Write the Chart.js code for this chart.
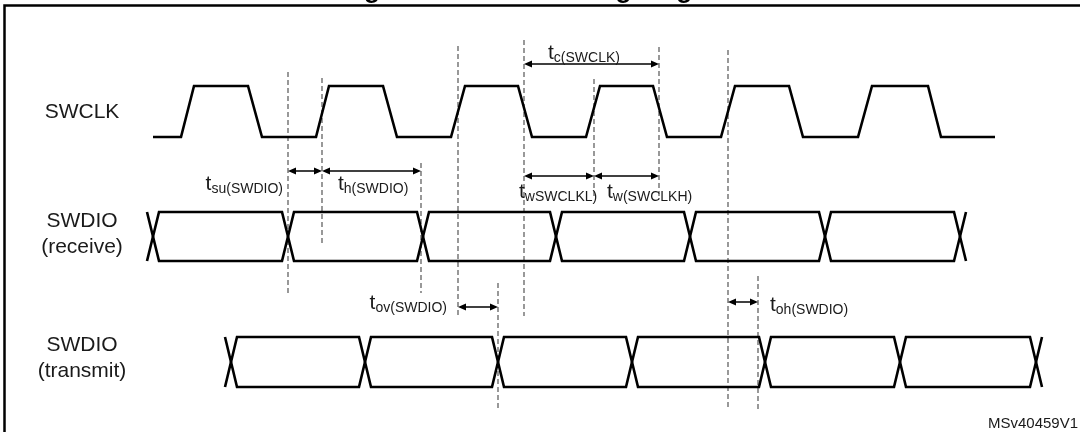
<!DOCTYPE html>
<html>
<head>
<meta charset="utf-8">
<script src="https://cdn.jsdelivr.net/npm/chart.js@4/dist/chart.umd.min.js"></script>
<style>
  body { margin: 0; background: #fff; }
  #wrap { width: 1080px; height: 432px; }
</style>
</head>
<body>
<div id="wrap"><canvas id="timing" width="1080" height="432"></canvas></div>
<script>
// SWCLK waveform: transition times and logic level at each
const clkTimes = [153, 181, 194, 248, 262, 316, 329, 383, 397, 451, 465, 518, 532,
                  586, 600, 653, 667, 721, 735, 789, 803, 858, 872, 928, 941, 995];
const clkLevels = [0, 0, 1, 1, 0, 0, 1, 1, 0, 0, 1, 1, 0,
                   0, 1, 1, 0, 0, 1, 1, 0, 0, 1, 1, 0, 0];

// SWDIO data change (crossing) times
const rxCross = [153, 288, 423, 556, 690, 825, 960];
const txCross = [231, 365, 498, 632, 765, 900, 1036];

// timing reference markers (dashed)
const markerTimes = [288, 322, 421, 458, 498, 524, 594, 659, 728, 758];

// measured intervals
const measNames = ['su(SWDIO)', 'h(SWDIO)', 'c(SWCLK)', 'wSWCLKL)', 'w(SWCLKH)', 'ov(SWDIO)', 'oh(SWDIO)'];
const measStart = [288, 322, 524, 524, 594, 458, 728];
const measEnd   = [322, 421, 659, 594, 659, 498, 758];

const rowNames = ['SWCLK', 'SWDIO\n(receive)', 'SWDIO\n(transmit)'];

// ---- layout (vertical positions, in canvas rows) ----
const rows = [
  { hi: 86,  lo: 137, labelY: 112 },
  { hi: 212, lo: 261, labelY: 234 },
  { hi: 337, lo: 387, labelY: 358 }
];
const markerSpan = [[72, 293], [78, 246], [163, 293], [46, 315], [283, 409],
                    [40, 316], [79, 199], [47, 199], [50, 410], [276, 410]];
const measLayout = [
  { y: 171, lx: 283, ly: 190, align: 'right' },
  { y: 171, lx: 338, ly: 190, align: 'left' },
  { y: 64,  lx: 548, ly: 59,  align: 'left' },
  { y: 176, lx: 519, ly: 198, align: 'left' },
  { y: 176, lx: 607, ly: 198, align: 'left' },
  { y: 307, lx: 447, ly: 309, align: 'right' },
  { y: 302, lx: 770, ly: 311, align: 'left' }
];
const crossHalf = 6;
const FONT = "'Liberation Sans', Arial, sans-serif";

function clockPoints() {
  const r = rows[0];
  return clkTimes.map((t, i) => ({ x: t, y: clkLevels[i] ? r.hi : r.lo }));
}

function eyePaths(cross, row) {
  const a = [], b = [];
  let la = row.lo, lb = row.hi;
  cross.forEach(c => {
    a.push({ x: c - crossHalf, y: la });
    b.push({ x: c - crossHalf, y: lb });
    la = la === row.lo ? row.hi : row.lo;
    lb = lb === row.lo ? row.hi : row.lo;
    a.push({ x: c + crossHalf, y: la });
    b.push({ x: c + crossHalf, y: lb });
  });
  return [a, b];
}

const solid = { borderColor: '#000', borderWidth: 2.6, pointRadius: 0, showLine: true,
                fill: false, tension: 0, borderJoinStyle: 'miter', borderCapStyle: 'butt' };

const datasets = [];
datasets.push(Object.assign({ label: 'SWCLK', data: clockPoints() }, solid));
eyePaths(rxCross, rows[1]).forEach((p, i) =>
  datasets.push(Object.assign({ label: 'rx' + i, data: p }, solid)));
eyePaths(txCross, rows[2]).forEach((p, i) =>
  datasets.push(Object.assign({ label: 'tx' + i, data: p }, solid)));
markerTimes.forEach((t, i) => datasets.push({
  label: 'm' + i,
  data: [{ x: t, y: markerSpan[i][0] }, { x: t, y: markerSpan[i][1] }],
  borderColor: '#555', borderWidth: 1.2, borderDash: [5, 3],
  pointRadius: 0, showLine: true, fill: false
}));

const decor = {
  id: 'decor',
  afterDatasetsDraw(chart) {
    const ctx = chart.ctx;
    const xs = chart.scales.x, ys = chart.scales.y;
    ctx.save();

    // frame + clipped title
    ctx.strokeStyle = '#000';
    ctx.lineWidth = 2.5;
    ctx.beginPath();
    ctx.moveTo(4.5, 432);
    ctx.lineTo(4.5, 5.5);
    ctx.lineTo(1080, 5.5);
    ctx.stroke();
    ctx.fillStyle = '#000';
    ctx.font = 'bold 26px ' + FONT;
    ctx.textAlign = 'left';
    ctx.textBaseline = 'alphabetic';
    ctx.fillText('Figure 101. SWD timing diagram', 341, -2);

    // row labels
    ctx.fillStyle = '#1a1a1a';
    ctx.font = '21px ' + FONT;
    ctx.textAlign = 'center';
    ctx.textBaseline = 'middle';
    rowNames.forEach((n, i) => {
      const lines = n.split('\n');
      const y0 = rows[i].labelY - (lines.length - 1) * 13;
      lines.forEach((l, k) => ctx.fillText(l, 82, y0 + k * 26));
    });

    // measurement arrows
    ctx.strokeStyle = '#000';
    ctx.fillStyle = '#000';
    ctx.lineWidth = 1.5;
    measNames.forEach((name, i) => {
      const L = measLayout[i];
      const x0 = xs.getPixelForValue(measStart[i]);
      const x1 = xs.getPixelForValue(measEnd[i]);
      const y = ys.getPixelForValue(L.y);
      ctx.beginPath();
      ctx.moveTo(x0 + 4, y);
      ctx.lineTo(x1 - 4, y);
      ctx.stroke();
      ctx.beginPath();
      ctx.moveTo(x0, y); ctx.lineTo(x0 + 8, y - 3.5); ctx.lineTo(x0 + 8, y + 3.5); ctx.closePath();
      ctx.moveTo(x1, y); ctx.lineTo(x1 - 8, y - 3.5); ctx.lineTo(x1 - 8, y + 3.5); ctx.closePath();
      ctx.fill();

      // label: t + subscript
      ctx.textBaseline = 'alphabetic';
      ctx.textAlign = 'left';
      ctx.font = '21px ' + FONT;
      const wt = ctx.measureText('t').width;
      ctx.font = '14px ' + FONT;
      const ws = ctx.measureText(name).width;
      const lx = L.align === 'right' ? L.lx - wt - ws : L.lx;
      ctx.fillStyle = '#1a1a1a';
      ctx.font = '21px ' + FONT;
      ctx.fillText('t', lx, L.ly);
      ctx.font = '14px ' + FONT;
      ctx.fillText(name, lx + wt, L.ly + 3);
      ctx.fillStyle = '#000';
    });

    // figure id
    ctx.fillStyle = '#1a1a1a';
    ctx.font = '15px ' + FONT;
    ctx.textAlign = 'right';
    ctx.fillText('MSv40459V1', 1078, 428);
    ctx.restore();
  }
};

new Chart(document.getElementById('timing'), {
  type: 'scatter',
  data: { datasets },
  options: {
    responsive: false,
    animation: false,
    layout: { padding: 0 },
    plugins: { legend: { display: false }, tooltip: { enabled: false } },
    scales: {
      x: { type: 'linear', min: 0, max: 1080, display: false },
      y: { type: 'linear', min: 0, max: 432, reverse: true, display: false }
    }
  },
  plugins: [decor]
});
</script>
</body>
</html>
